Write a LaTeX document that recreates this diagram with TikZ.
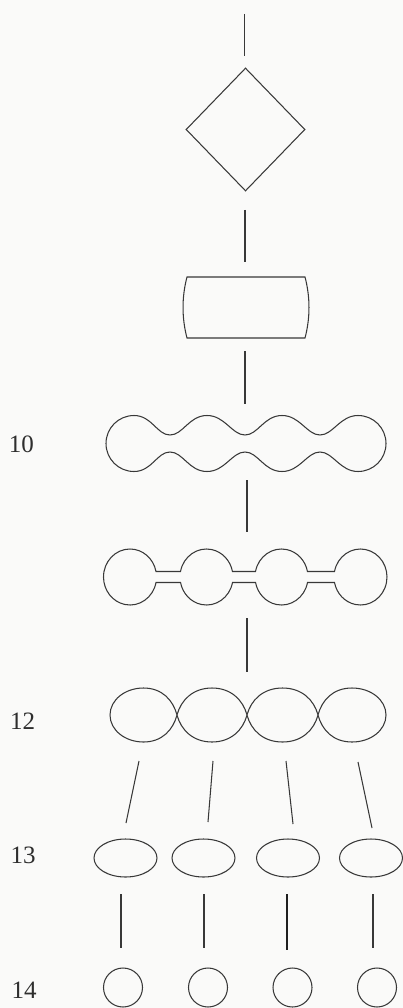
\documentclass[tikz,border=0pt]{standalone}
\usepackage{fontspec}
\setmainfont{Liberation Serif}
\usetikzlibrary{shapes.geometric}
\begin{document}
\begin{tikzpicture}[x=1pt,y=1pt,
  outline/.style={draw=black!78, line width=1.05pt},
  link/.style={draw=black!78, line width=1.05pt},
  boldlink/.style={draw=black!88, line width=1.8pt},
  rowlabel/.style={font=\fontsize{25}{25}\selectfont, text=black!82, inner sep=0pt, anchor=center},
  oval/.style={ellipse, outline, minimum width=63pt, minimum height=38pt, inner sep=0pt},
  ball/.style={circle, outline, minimum size=39pt, inner sep=0pt}]
\fill[fill={rgb,255:red,250;green,250;blue,249}] (0,0) rectangle (403,-1008);
\useasboundingbox (0,0) rectangle (403,-1008);

% row labels
\node[rowlabel] (l10) at (21.5,-444) {10};
\node[rowlabel] (l12) at (22.5,-721) {12};
\node[rowlabel] (l13) at (23,-855) {13};
\node[rowlabel] (l14) at (24,-990) {14};

% stem above the diamond
\coordinate (s0a) at (244.5,-14);
\coordinate (s0b) at (244.5,-56);
\draw[link] (s0a) -- (s0b);

% diamond
\node[diamond, outline, minimum width=119pt, minimum height=123pt, inner sep=0pt] (dec) at (245.5,-129.5) {};

\coordinate (s1a) at (245,-210);
\coordinate (s1b) at (245,-262);
\draw[link] (s1a) -- (s1b);

% barrel-shaped box
\draw[outline] (187,-277) -- (305,-277)
  .. controls (310.3,-297) and (310.3,-318) .. (305,-338)
  -- (187,-338)
  .. controls (181.7,-318) and (181.7,-297) .. (187,-277) -- cycle;

\coordinate (s2a) at (245,-351);
\coordinate (s2b) at (245,-404);
\draw[link] (s2a) -- (s2b);

% row 10: four bulbs joined by wide waists
\draw[outline] (106,-443.5)
  .. controls (106,-428) and (118.5,-415.5) .. (134,-415.5)
  .. controls (152,-415.5) and (157,-435) .. (170,-435)
  .. controls (183,-435) and (189,-415.5) .. (207,-415.5)
  .. controls (225,-415.5) and (232,-435) .. (245,-435)
  .. controls (258,-435) and (264,-415.5) .. (282,-415.5)
  .. controls (300,-415.5) and (307,-435) .. (320,-435)
  .. controls (333,-435) and (340,-415.5) .. (358,-415.5)
  .. controls (373.5,-415.5) and (386,-428) .. (386,-443.5)
  .. controls (386,-459) and (373.5,-471.5) .. (358,-471.5)
  .. controls (340,-471.5) and (333,-452) .. (320,-452)
  .. controls (307,-452) and (300,-471.5) .. (282,-471.5)
  .. controls (264,-471.5) and (258,-452) .. (245,-452)
  .. controls (232,-452) and (225,-471.5) .. (207,-471.5)
  .. controls (189,-471.5) and (183,-452) .. (170,-452)
  .. controls (157,-452) and (152,-471.5) .. (134,-471.5)
  .. controls (118.5,-471.5) and (106,-459) .. (106,-443.5) -- cycle;

\coordinate (s3a) at (247,-480);
\coordinate (s3b) at (247,-532);
\draw[link] (s3a) -- (s3b);

% row 11: four bulbs joined by thin bars
\draw[outline] (103.5,-577)
  arc[start angle=180, end angle=11.33, x radius=26.5, y radius=28]
  -- (180.5,-571.5)
  arc[start angle=168.67, end angle=11.33, x radius=26.5, y radius=28]
  -- (255.5,-571.5)
  arc[start angle=168.67, end angle=11.33, x radius=26.5, y radius=28]
  -- (334.5,-571.5)
  arc[start angle=168.67, end angle=-168.67, x radius=26.5, y radius=28]
  -- (307.5,-582.5)
  arc[start angle=-11.33, end angle=-168.67, x radius=26.5, y radius=28]
  -- (232.5,-582.5)
  arc[start angle=-11.33, end angle=-168.67, x radius=26.5, y radius=28]
  -- (156,-582.5)
  arc[start angle=-11.33, end angle=-180, x radius=26.5, y radius=28]
  -- cycle;

\coordinate (s4a) at (247,-618);
\coordinate (s4b) at (247,-672);
\draw[link] (s4a) -- (s4b);

% row 12: four lobes meeting at points
\draw[outline] (110,-715)
  .. controls (110,-700) and (125,-688) .. (143.5,-688)
  .. controls (162,-688) and (173,-700) .. (177,-715)
  .. controls (181,-700) and (193,-688) .. (212,-688)
  .. controls (231,-688) and (243,-700) .. (247,-715)
  .. controls (251,-700) and (263,-688) .. (282.5,-688)
  .. controls (302,-688) and (314,-700) .. (318,-715)
  .. controls (322,-700) and (333,-688) .. (352,-688)
  .. controls (371,-688) and (386,-700) .. (386,-715)
  .. controls (386,-730) and (371,-742) .. (352,-742)
  .. controls (333,-742) and (322,-730) .. (318,-715)
  .. controls (314,-730) and (302,-742) .. (282.5,-742)
  .. controls (263,-742) and (251,-730) .. (247,-715)
  .. controls (243,-730) and (231,-742) .. (212,-742)
  .. controls (193,-742) and (181,-730) .. (177,-715)
  .. controls (173,-730) and (162,-742) .. (143.5,-742)
  .. controls (125,-742) and (110,-730) .. (110,-715) -- cycle;

% slanted connectors down to row 13
\coordinate (t1a) at (139,-761); \coordinate (t1b) at (126,-823);
\coordinate (t2a) at (213,-761); \coordinate (t2b) at (208,-822);
\coordinate (t3a) at (286,-761); \coordinate (t3b) at (293,-824);
\coordinate (t4a) at (358,-762); \coordinate (t4b) at (372,-828);
\draw[link] (t1a) -- (t1b);
\draw[link] (t2a) -- (t2b);
\draw[link] (t3a) -- (t3b);
\draw[link] (t4a) -- (t4b);

% row 13: ovals
\node[oval] (o1) at (125.5,-858) {};
\node[oval] (o2) at (203.5,-858) {};
\node[oval] (o3) at (288,-858) {};
\node[oval] (o4) at (371,-858) {};

% vertical connectors down to row 14
\coordinate (v1a) at (121,-894); \coordinate (v1b) at (121,-948);
\coordinate (v2a) at (204,-894); \coordinate (v2b) at (204,-948);
\coordinate (v3a) at (287,-894); \coordinate (v3b) at (287,-950);
\coordinate (v4a) at (373,-894); \coordinate (v4b) at (373,-948);
\draw[link] (v1a) -- (v1b);
\draw[link] (v2a) -- (v2b);
\draw[boldlink] (v3a) -- (v3b);
\draw[link] (v4a) -- (v4b);

% row 14: circles
\node[ball] (c1) at (123,-987.5) {};
\node[ball] (c2) at (208,-987.5) {};
\node[ball] (c3) at (292.5,-987.5) {};
\node[ball] (c4) at (377,-987.5) {};
\end{tikzpicture}
\end{document}
